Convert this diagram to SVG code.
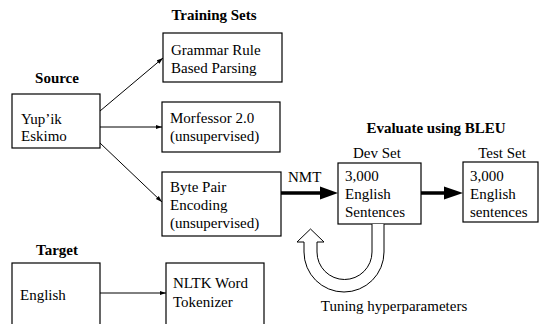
<svg xmlns="http://www.w3.org/2000/svg" width="540" height="324" viewBox="0 0 540 324">
<style>
text{font-family:"Liberation Serif","Times New Roman",serif;font-size:15px;fill:#000}
.b{font-weight:bold}
.box{fill:#fff;stroke:#000;stroke-width:1.2}
.ln{stroke:#000;stroke-width:1;fill:none}
.thick{stroke:#000;stroke-width:3.5;fill:none}
</style>
<defs>
<marker id="ah" markerWidth="7" markerHeight="6" refX="6.5" refY="3" orient="auto" markerUnits="userSpaceOnUse">
<path d="M0,0.8 L6.5,3 L0,5.2 Z" fill="#000"/>
</marker>
</defs>
<rect width="540" height="324" fill="#fff"/>
<g id="labels">
<text class="b" x="214" y="20" text-anchor="middle">Training Sets</text>
<text class="b" x="57" y="83" text-anchor="middle">Source</text>
<text class="b" x="57" y="255" text-anchor="middle">Target</text>
<text class="b" x="436" y="133" text-anchor="middle">Evaluate using BLEU</text>
<text x="377" y="158" text-anchor="middle">Dev Set</text>
<text x="502" y="158" text-anchor="middle">Test Set</text>
<text x="288" y="182">NMT</text>
<text x="394" y="311" text-anchor="middle">Tuning hyperparameters</text>
</g>
<g id="yupik">
<rect class="box" x="12" y="94" width="88" height="54"/>
<text x="21" y="124">Yup’ik</text>
<text x="21" y="141">Eskimo</text>
</g>
<g id="grammar">
<rect class="box" x="163" y="33" width="119" height="49"/>
<text x="171" y="55">Grammar Rule</text>
<text x="171" y="73">Based Parsing</text>
</g>
<g id="morfessor">
<rect class="box" x="162" y="102" width="118" height="50"/>
<text x="170" y="123">Morfessor 2.0</text>
<text x="170" y="141">(unsupervised)</text>
</g>
<g id="bpe">
<rect class="box" x="162" y="172" width="119" height="64"/>
<text x="170" y="192">Byte Pair</text>
<text x="170" y="210">Encoding</text>
<text x="170" y="228">(unsupervised)</text>
</g>
<g id="english">
<rect class="box" x="12" y="263" width="88" height="70"/>
<text x="20" y="300">English</text>
</g>
<g id="nltk">
<rect class="box" x="166" y="263" width="98" height="70"/>
<text x="173" y="288">NLTK Word</text>
<text x="173" y="307">Tokenizer</text>
</g>
<g id="dev">
<rect class="box" x="338" y="163" width="83" height="61"/>
<text x="345" y="181">3,000</text>
<text x="345" y="199">English</text>
<text x="345" y="217">Sentences</text>
</g>
<g id="test">
<rect class="box" x="463" y="162" width="75" height="60"/>
<text x="470" y="181">3,000</text>
<text x="470" y="199">English</text>
<text x="470" y="217">sentences</text>
</g>
<g id="connectors">
<line class="ln" x1="100" y1="111" x2="163" y2="58" marker-end="url(#ah)"/>
<line class="ln" x1="100" y1="127" x2="162" y2="127" marker-end="url(#ah)"/>
<line class="ln" x1="100" y1="143" x2="162" y2="202" marker-end="url(#ah)"/>
<line class="ln" x1="100" y1="293" x2="166" y2="293" marker-end="url(#ah)"/>
<line class="thick" x1="281" y1="193" x2="322" y2="193"/>
<path d="M320,186.5 L338,193 L320,199.5 Z" fill="#000"/>
<line class="thick" x1="421" y1="193" x2="446" y2="193"/>
<path d="M444,186.5 L463,193 L444,199.5 Z" fill="#000"/>
<path d="M384,224 L384,252 A40,40 0 0 1 304,252 L304,242 L297,242 L310.5,229 L324,242 L317,242 L317,252 A27.5,27.5 0 0 0 372,252 L372,224" fill="#fff" stroke="#000" stroke-width="1"/>
</g>
</svg>
